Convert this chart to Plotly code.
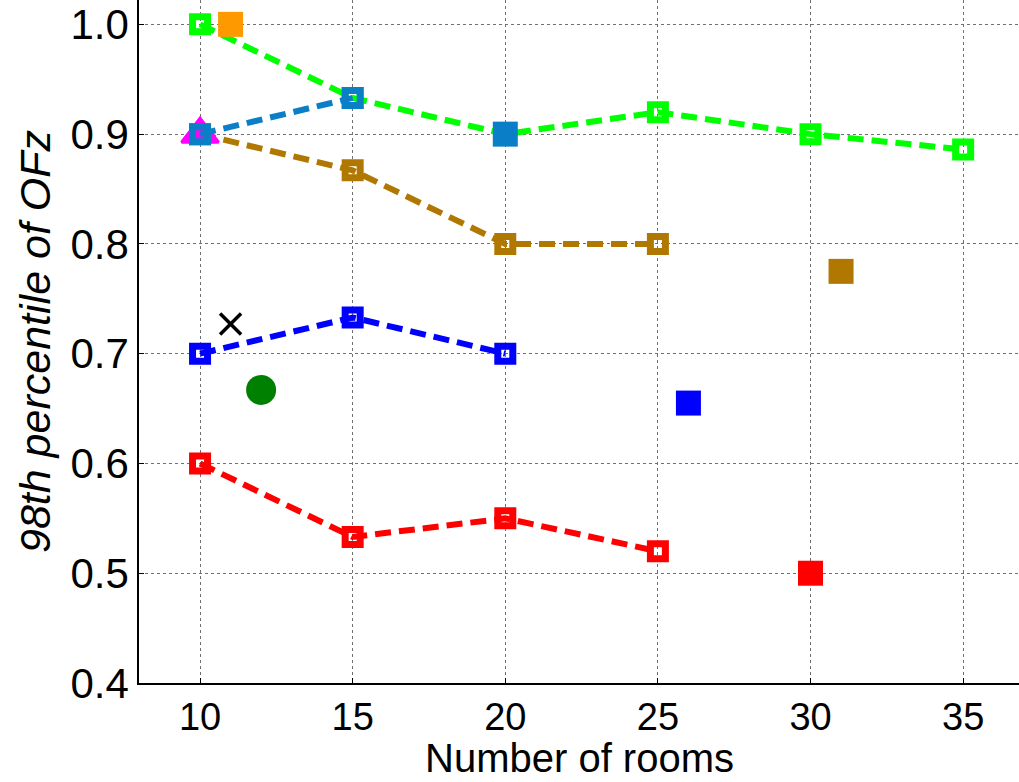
import plotly.graph_objects as go

# Room counts on the x axis
rooms_a = [10, 15, 20, 25, 30, 35]
rooms_b = [10, 15]
rooms_c = [10, 15, 20, 25]
rooms_d = [10, 15, 20]

# 98th percentile of OFz per series
green_vals = [1.0, 0.933, 0.9, 0.92, 0.9, 0.886]
brown_vals = [0.9, 0.867, 0.8, 0.8]
red_vals = [0.6, 0.533, 0.55, 0.52]
blue_vals = [0.7, 0.733, 0.7]
steel_vals = [0.9, 0.933]

# Single-point results
steel_pt_x, steel_pt_y = [20], [0.9]
magenta_x, magenta_y = [10], [0.9]
orange_x, orange_y = [11], [1.0]
cross_x, cross_y = [11], [0.727]
circle_x, circle_y = [12], [0.667]
blue_pt_x, blue_pt_y = [26], [0.655]
brown_pt_x, brown_pt_y = [31], [0.775]
red_pt_x, red_pt_y = [30], [0.5]

x_ticks = [10, 15, 20, 25, 30, 35]
y_ticks = [0.4, 0.5, 0.6, 0.7, 0.8, 0.9, 1.0]

GREEN = "#00FF00"
BROWN = "#B07800"
RED = "#FF0000"
BLUE = "#0000FF"
STEEL = "#0A7FC7"
MAGENTA = "#FF00FF"
ORANGE = "#FF9900"
DKGREEN = "#008000"

DASH = "16px,8px"


def dashed(x, y, color):
    return go.Scatter(
        x=x, y=y, mode="lines+markers",
        line=dict(color=color, width=6, dash=DASH),
        marker=dict(symbol="square-open", size=15, color=color,
                    line=dict(color=color, width=7)),
        showlegend=False, hoverinfo="x+y",
    )


def single(x, y, color, symbol="square", size=25, lw=0):
    return go.Scatter(
        x=x, y=y, mode="markers",
        marker=dict(symbol=symbol, size=size, color=color,
                    line=dict(color=color, width=lw)),
        showlegend=False, hoverinfo="x+y",
    )


fig = go.Figure()
fig.add_trace(dashed(rooms_a, green_vals, GREEN))
fig.add_trace(dashed(rooms_c, brown_vals, BROWN))
fig.add_trace(dashed(rooms_c, red_vals, RED))
fig.add_trace(dashed(rooms_d, blue_vals, BLUE))
fig.add_trace(single(magenta_x, magenta_y, MAGENTA, "triangle-up", 32, 3))
fig.add_trace(dashed(rooms_b, steel_vals, STEEL))
fig.add_trace(single(steel_pt_x, steel_pt_y, STEEL))
fig.add_trace(single(orange_x, orange_y, ORANGE))
fig.add_trace(single(cross_x, cross_y, "#000000", "x-thin-open", 21, 3.5))
fig.add_trace(single(circle_x, circle_y, DKGREEN, "circle", 30))
fig.add_trace(single(blue_pt_x, blue_pt_y, BLUE))
fig.add_trace(single(brown_pt_x, brown_pt_y, BROWN))
fig.add_trace(single(red_pt_x, red_pt_y, RED))

FONT = "Liberation Sans, Arial, sans-serif"

fig.update_layout(
    width=1019, height=782,
    margin=dict(l=139, r=0, t=0, b=99),
    paper_bgcolor="white", plot_bgcolor="white",
    font=dict(family=FONT, color="black"),
    xaxis=dict(
        range=[8.0, 36.83], tickvals=x_ticks,
        ticktext=[str(v) for v in x_ticks],
        tickfont=dict(size=38, family=FONT),
        ticks="inside", ticklen=5, tickcolor="black",
        showline=True, linecolor="black", linewidth=1.5,
        showgrid=True, gridcolor="#707070", griddash="dot", gridwidth=1,
        zeroline=False,
    ),
    yaxis=dict(
        range=[0.4, 1.0222], tickvals=y_ticks,
        ticktext=[f"{v:.1f}" for v in y_ticks],
        tickfont=dict(size=42, family=FONT),
        ticks="inside", ticklen=5, tickcolor="black",
        showline=True, linecolor="black", linewidth=1.5,
        showgrid=True, gridcolor="#707070", griddash="dot", gridwidth=1,
        zeroline=False,
        title=dict(text="<i>98th percentile of OFz</i>",
                   font=dict(size=43, family=FONT), standoff=6),
    ),
    annotations=[dict(
        text="Number of rooms", xref="x domain", yref="paper",
        x=0.5, y=0, yshift=-99, xanchor="center", yanchor="bottom",
        showarrow=False, font=dict(size=40, family=FONT),
    )],
)

fig.write_html("out.html")
